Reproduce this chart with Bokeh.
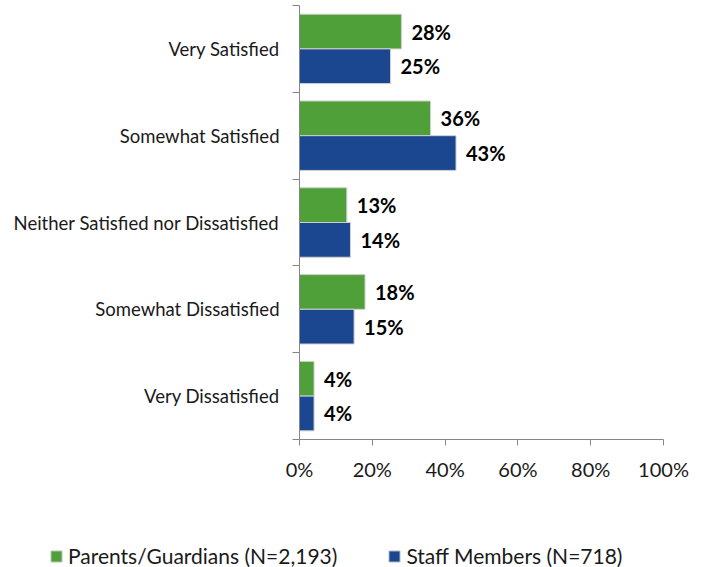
from bokeh.plotting import figure
from bokeh.models import FixedTicker, PrintfTickFormatter, Legend, LegendItem, ColumnDataSource
from bokeh.core.properties import value
from bokeh.embed import file_html
from bokeh.resources import INLINE

categories = ["Very Satisfied", "Somewhat Satisfied", "Neither Satisfied nor Dissatisfied",
              "Somewhat Dissatisfied", "Very Dissatisfied"]
parents = [28, 36, 13, 18, 4]
staff = [25, 43, 14, 15, 4]
series_names = ["Parents/Guardians (N=2,193)", "Staff Members (N=718)"]
x_ticks = [0, 20, 40, 60, 80, 100]

GREEN = "#50A03A"
BLUE = "#1B4690"
EDGE = "#D0D0D0"
AXIS = "#868686"
FONT = "Lato"
TXT = "#1A1A1A"

W, H = 702, 567
n = len(categories)
ypos = [n - 1 - i for i in range(n)]

# pixel layout of the plotting area inside the full-size frame
X0_PX, X1_PX = 299, 663      # 0% and 100%
Y_TOP_PX, Y_BOT_PX = 5, 439  # top and bottom of the category axis
xs = (X1_PX - X0_PX) / 100.0
ys = (Y_BOT_PX - Y_TOP_PX) / n
x_range = (-X0_PX / xs, 100 + (W - X1_PX) / xs)
y_range = (-0.5 - (H - Y_BOT_PX) / ys, n - 0.5 + Y_TOP_PX / ys)

p = figure(width=W, height=H, output_backend="svg", toolbar_location=None,
           x_range=x_range, y_range=y_range,
           min_border_left=0, min_border_right=0, min_border_bottom=0, min_border_top=0)
p.outline_line_color = None
p.xgrid.visible = False
p.ygrid.visible = False

src_p = ColumnDataSource(dict(y=[v + 0.2 for v in ypos], x=parents, lab=[f"{v}%" for v in parents]))
src_s = ColumnDataSource(dict(y=[v - 0.2 for v in ypos], x=staff, lab=[f"{v}%" for v in staff]))

r1 = p.hbar(y="y", right="x", left=0, height=0.4, source=src_p, fill_color=GREEN, line_color=EDGE, line_width=1)
r2 = p.hbar(y="y", right="x", left=0, height=0.4, source=src_s, fill_color=BLUE, line_color=EDGE, line_width=1)

for src in (src_p, src_s):
    p.text(x="x", y="y", text="lab", source=src, x_offset=10, text_baseline="middle", text_align="left",
           text_font=value(FONT), text_font_style="bold", text_font_size="20px", text_color="#000000")

# x axis
xa = p.xaxis[0]
xa.fixed_location = -0.5
xa.bounds = (0, 100)
xa.ticker = FixedTicker(ticks=x_ticks)
xa.formatter = PrintfTickFormatter(format="%d%%")
xa.axis_line_color = AXIS
xa.major_tick_line_color = AXIS
xa.major_tick_out = 6
xa.major_tick_in = 0
xa.minor_tick_line_color = None
xa.major_label_text_font = FONT
xa.major_label_text_font_size = "20px"
xa.major_label_text_color = TXT
xa.major_label_standoff = 11

# y axis
ya = p.yaxis[0]
ya.fixed_location = 0
ya.bounds = (-0.5, n - 0.5)
ya.ticker = FixedTicker(ticks=ypos, minor_ticks=[v - 0.5 for v in range(n + 1)])
ya.major_label_overrides = {ypos[i]: categories[i] for i in range(n)}
ya.axis_line_color = AXIS
ya.major_tick_line_color = None
ya.major_tick_out = 0
ya.major_tick_in = 0
ya.minor_tick_line_color = AXIS
ya.minor_tick_out = 7
ya.minor_tick_in = 0
ya.major_label_text_font = FONT
ya.major_label_text_font_size = "18.5px"
ya.major_label_text_color = TXT
ya.major_label_standoff = 13

legend = Legend(items=[LegendItem(label=series_names[0], renderers=[r1]),
                       LegendItem(label=series_names[1], renderers=[r2])],
                orientation="horizontal", location=(49, -1))
legend.border_line_color = None
legend.background_fill_alpha = 0
legend.padding = 0
legend.margin = 0
legend.spacing = 50
legend.glyph_width = 14
legend.glyph_height = 14
legend.label_standoff = 5
legend.label_text_font = FONT
legend.label_text_font_size = "21px"
legend.label_text_color = TXT
p.add_layout(legend, "center")

open("out.html", "w").write(file_html(p, INLINE))
